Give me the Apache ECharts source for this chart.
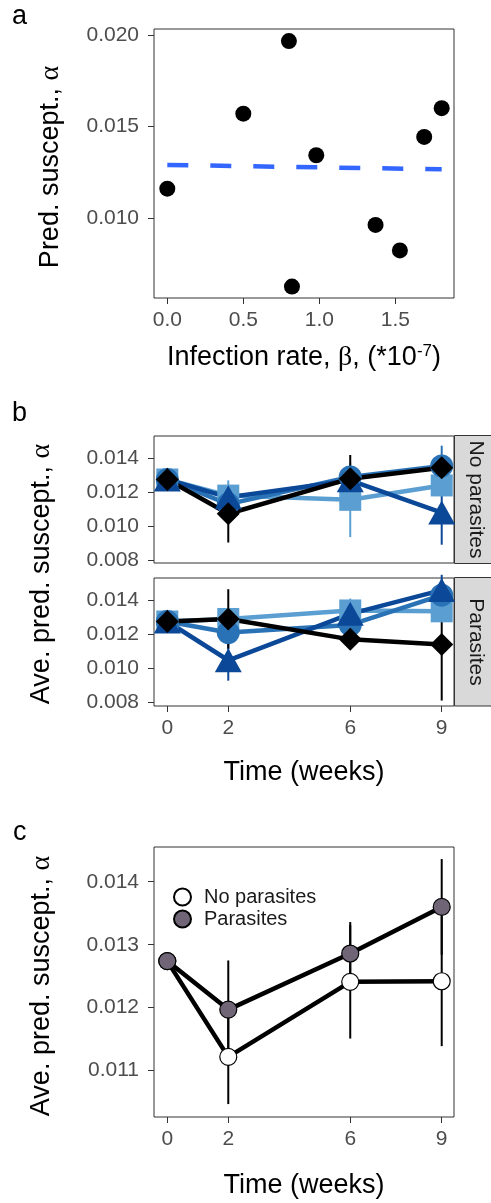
<!DOCTYPE html>
<html>
<head>
<meta charset="utf-8">
<script src="https://cdn.jsdelivr.net/npm/echarts@6/dist/echarts.min.js"></script>
<style>
html,body{margin:0;padding:0;background:#fff;}
#chart{width:491px;height:1203px;}
</style>
</head>
<body>
<div id="chart"></div>
<script>
// ---------- Panel a data ----------
const aBeta  = [0.0, 0.5, 0.80, 0.82, 0.98, 1.37, 1.53, 1.69, 1.805];
const aAlpha = [0.0116, 0.0157, 0.01967, 0.00625, 0.01343, 0.00962, 0.00823, 0.01443, 0.0160];
const aFitX  = [0.0, 1.805];
const aFitY  = [0.0129, 0.01266];
const aTicksX = [0.0, 0.5, 1.0, 1.5];
const aTicksY = [0.010, 0.015, 0.020];

// ---------- Panel b data ----------
const weeks = [0, 2, 6, 9];
const bTicksY = [0.008, 0.010, 0.012, 0.014];
// No parasites facet
const npSquare     = [0.01275, 0.0118, 0.01155, 0.0124];
const npSquareSE   = [0, 0.0009, 0.0022, 0.0004];
const npCircle     = [0.01275, 0.0113, 0.0129, 0.01355];
const npCircleSE   = [0, 0.0006, 0.0005, 0.0012];
const npTriangle   = [0.01275, 0.0117, 0.0127, 0.0108];
const npTriangleSE = [0, 0.0007, 0.0006, 0.0019];
const npDiamond    = [0.01275, 0.01073, 0.0128, 0.01345];
const npDiamondSE  = [0, 0.0017, 0.0014, 0.0005];
// Parasites facet
const pSquare      = [0.01275, 0.0129, 0.0134, 0.01335];
const pSquareSE    = [0, 0.0006, 0.0007, 0.0006];
const pCircle      = [0.01275, 0.0121, 0.01255, 0.0143];
const pCircleSE    = [0, 0.0007, 0.0006, 0.0008];
const pTriangle    = [0.01275, 0.01047, 0.0132, 0.0146];
const pTriangleSE  = [0, 0.0012, 0.0008, 0.0009];
const pDiamond     = [0.01275, 0.0129, 0.0117, 0.0114];
const pDiamondSE   = [0, 0.00175, 0.0004, 0.0033];

// ---------- Panel c data ----------
const cTicksY = [0.011, 0.012, 0.013, 0.014];
const cNo     = [0.01274, 0.01122, 0.01241, 0.01242];
const cNoSE   = [0, 0.00075, 0.0009, 0.00103];
const cPar    = [0.01274, 0.01197, 0.01286, 0.0136];
const cParSE  = [0, 0.00078, 0.0005, 0.00076];

// ---------- style constants ----------
const FONT = 'Liberation Sans';
const TICK_COLOR = '#4d4d4d';
const LIGHT = '#5b9fd2', MED = '#2a72b6', DARK = '#0c4898';

function valueAxis(gridIndex, min, max, ticks, fmt, opts) {
  opts = opts || {};
  return Object.assign({
    type: 'value', gridIndex, min, max,
    splitLine: {show: false},
    axisLine: {show: false, onZero: false},
    axisTick: {show: true, length: 6, lineStyle: {color: '#333', width: 1}, customValues: ticks},
    axisLabel: {show: true, customValues: ticks, formatter: fmt, fontSize: 21, color: TICK_COLOR, fontFamily: FONT, margin: 12}
  }, opts);
}

function errSeries(idx, vals, ses, color, z) {
  return {
    type: 'custom', xAxisIndex: idx, yAxisIndex: idx, z: z, silent: true,
    data: weeks.map((w, i) => [w, vals[i] - ses[i], vals[i] + ses[i]]).filter(d => d[2] > d[1]),
    encode: {x: 0, y: [1, 2]},
    renderItem: function (params, api) {
      const p1 = api.coord([api.value(0), api.value(1)]);
      const p2 = api.coord([api.value(0), api.value(2)]);
      return {type: 'line', shape: {x1: p1[0], y1: p1[1], x2: p2[0], y2: p2[1]},
              style: {stroke: color, lineWidth: 2}};
    }
  };
}
function lineSeries(idx, vals, color, z, name) {
  return {type: 'line', name: name, xAxisIndex: idx, yAxisIndex: idx, z: z, silent: true,
    data: weeks.map((w, i) => [w, vals[i]]), showSymbol: false, symbol: 'none',
    lineStyle: {color: color, width: 4.5}};
}
function pointSeries(idx, vals, color, symbol, size, z, name, border) {
  return {type: 'scatter', name: name, xAxisIndex: idx, yAxisIndex: idx, z: z, silent: true,
    data: weeks.map((w, i) => [w, vals[i]]), symbol: symbol, symbolSize: size,
    itemStyle: Object.assign({color: color, opacity: 1}, border || {})};
}

const chart = echarts.init(document.getElementById('chart'), null, {renderer: 'canvas'});

const grids = [
  {left: 154, top: 29, width: 300, height: 269},
  {left: 154, top: 436, width: 300, height: 127},
  {left: 154, top: 578, width: 300, height: 128},
  {left: 154, top: 847, width: 300, height: 270}
].map(g => Object.assign(g, {show: true, borderColor: '#333', borderWidth: 1, backgroundColor: 'transparent', containLabel: false}));

const f3 = v => v.toFixed(3);
const f1 = v => v.toFixed(1);
const f0 = v => String(v);

const xAxes = [
  valueAxis(0, -0.0875, 1.886, aTicksX, f1),
  valueAxis(1, -0.436, 9.403, weeks, f0, {axisTick: {show: false}, axisLabel: {show: false}}),
  valueAxis(2, -0.436, 9.403, weeks, f0),
  valueAxis(3, -0.436, 9.403, weeks, f0)
];
const yAxes = [
  valueAxis(0, 0.005628, 0.020328, aTicksY, f3, {}),
  valueAxis(1, 0.00782, 0.01532, bTicksY, f3),
  valueAxis(2, 0.00778, 0.01531, bTicksY, f3),
  valueAxis(3, 0.010265, 0.014551, cTicksY, f3)
];
yAxes.forEach(a => { a.axisLabel.margin = 15; });

const series = [];
// Panel a
series.push({type: 'line', xAxisIndex: 0, yAxisIndex: 0, z: 2, silent: true,
  data: aFitX.map((x, i) => [x, aFitY[i]]), showSymbol: false, symbol: 'none',
  lineStyle: {color: '#3366ff', width: 4.5, type: [21, 22]}});
series.push({type: 'scatter', xAxisIndex: 0, yAxisIndex: 0, z: 3, silent: true,
  data: aBeta.map((b, i) => [b, aAlpha[i]]), symbol: 'circle', symbolSize: 16,
  itemStyle: {color: '#000', opacity: 1}});

// Panel b facets
const facets = [
  {idx: 1, sq: npSquare, sqSE: npSquareSE, ci: npCircle, ciSE: npCircleSE, tr: npTriangle, trSE: npTriangleSE, di: npDiamond, diSE: npDiamondSE},
  {idx: 2, sq: pSquare, sqSE: pSquareSE, ci: pCircle, ciSE: pCircleSE, tr: pTriangle, trSE: pTriangleSE, di: pDiamond, diSE: pDiamondSE}
];
facets.forEach(f => {
  series.push(errSeries(f.idx, f.sq, f.sqSE, LIGHT, 1));
  series.push(errSeries(f.idx, f.ci, f.ciSE, MED, 1));
  series.push(errSeries(f.idx, f.tr, f.trSE, DARK, 1));
  series.push(errSeries(f.idx, f.di, f.diSE, '#000', 1));
  series.push(lineSeries(f.idx, f.sq, LIGHT, 2));
  series.push(lineSeries(f.idx, f.ci, MED, 2));
  series.push(lineSeries(f.idx, f.tr, DARK, 2));
  series.push(lineSeries(f.idx, f.di, '#000', 2));
  series.push(pointSeries(f.idx, f.sq, LIGHT, 'rect', 22, 3));
  series.push(pointSeries(f.idx, f.ci, MED, 'circle', 23, 3));
  series.push(pointSeries(f.idx, f.tr, DARK, 'triangle', [27, 24], 3));
  series.push(pointSeries(f.idx, f.di, '#000', 'diamond', 23, 3));
});

// Panel c
series.push(errSeries(3, cNo, cNoSE, '#000', 1));
series.push(errSeries(3, cPar, cParSE, '#000', 1));
series.push(lineSeries(3, cNo, '#000', 2, 'No parasites line'));
series.push(lineSeries(3, cPar, '#000', 2, 'Parasites line'));
series.push(pointSeries(3, cNo, '#ffffff', 'circle', 17, 3, 'No parasites', {borderColor: '#000', borderWidth: 1.2}));
series.push(pointSeries(3, cPar, '#6f6577', 'circle', 17, 3, 'Parasites', {borderColor: '#000', borderWidth: 1.2}));

const greek = {g: {fontFamily: 'Liberation Serif', fontSize: 28, fill: '#000'}};
const graphics = [
  // panel letters
  {type: 'text', x: 12, y: 17, style: {text: 'a', fontSize: 27, fontFamily: FONT, fill: '#000', verticalAlign: 'middle'}},
  {type: 'text', x: 12, y: 414, style: {text: 'b', fontSize: 27, fontFamily: FONT, fill: '#000', verticalAlign: 'middle'}},
  {type: 'text', x: 13, y: 833, style: {text: 'c', fontSize: 27, fontFamily: FONT, fill: '#000', verticalAlign: 'middle'}},
  // axis titles
  {type: 'text', x: 304, y: 358, style: {text: 'Infection rate, {g|β}, (*10{sup|-7})', fontSize: 27, fontFamily: FONT, fill: '#000', align: 'center', verticalAlign: 'middle',
     rich: {g: {fontFamily: 'Liberation Serif', fontSize: 28, fill: '#000'}, sup: {fontSize: 17, fontFamily: FONT, fill: '#000', verticalAlign: 'top', padding: [0, 0, 14, 0]}}}},
  {type: 'text', x: 51, y: 167, rotation: Math.PI / 2, style: {text: 'Pred. suscept., {g|α}', fontSize: 27, fontFamily: FONT, fill: '#000', align: 'center', verticalAlign: 'middle', rich: greek}},
  {type: 'text', x: 42, y: 574, rotation: Math.PI / 2, style: {text: 'Ave. pred. suscept., {g|α}', fontSize: 27, fontFamily: FONT, fill: '#000', align: 'center', verticalAlign: 'middle', rich: greek}},
  {type: 'text', x: 304, y: 773, style: {text: 'Time (weeks)', fontSize: 27, fontFamily: FONT, fill: '#000', align: 'center', verticalAlign: 'middle'}},
  {type: 'text', x: 42, y: 986, rotation: Math.PI / 2, style: {text: 'Ave. pred. suscept., {g|α}', fontSize: 27, fontFamily: FONT, fill: '#000', align: 'center', verticalAlign: 'middle', rich: greek}},
  {type: 'text', x: 304, y: 1186, style: {text: 'Time (weeks)', fontSize: 27, fontFamily: FONT, fill: '#000', align: 'center', verticalAlign: 'middle'}},
  // facet strips
  {type: 'rect', shape: {x: 454.5, y: 435.5, width: 40, height: 128}, style: {fill: '#d9d9d9', stroke: '#333', lineWidth: 1}},
  {type: 'rect', shape: {x: 454.5, y: 577.5, width: 40, height: 128.5}, style: {fill: '#d9d9d9', stroke: '#333', lineWidth: 1}},
  {type: 'text', x: 476, y: 499.5, rotation: -Math.PI / 2, style: {text: 'No parasites', fontSize: 21, fontFamily: FONT, fill: '#1a1a1a', align: 'center', verticalAlign: 'middle'}},
  {type: 'text', x: 476, y: 642, rotation: -Math.PI / 2, style: {text: 'Parasites', fontSize: 21, fontFamily: FONT, fill: '#1a1a1a', align: 'center', verticalAlign: 'middle'}}
];

chart.setOption({
  animation: false,
  backgroundColor: '#ffffff',
  textStyle: {fontFamily: FONT},
  grid: grids,
  xAxis: xAxes,
  yAxis: yAxes,
  legend: {
    data: ['No parasites', 'Parasites'], orient: 'vertical', left: 173, top: 887, padding: 0,
    itemWidth: 17, itemHeight: 17, itemGap: 2, icon: 'circle', selectedMode: false,
    textStyle: {fontSize: 20, color: '#1a1a1a', fontFamily: FONT, padding: [0, 0, 0, 8]}
  },
  series: series,
  graphic: graphics
});
</script>
</body>
</html>
